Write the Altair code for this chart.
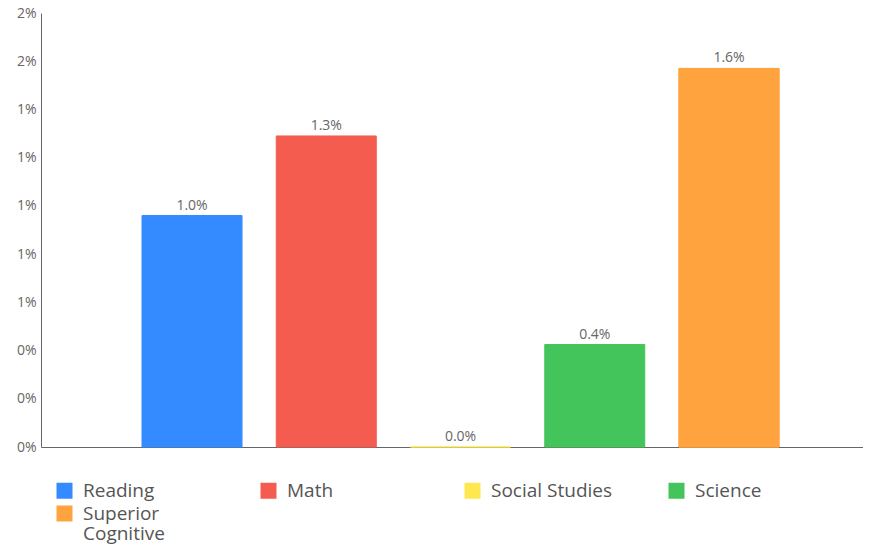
import altair as alt
import pandas as pd

subjects = ["Reading", "Math", "Social Studies", "Science", "Superior Cognitive"]
values = [0.0096, 0.0129, 0.0, 0.00425, 0.0157]
colors = ["#338BFF", "#F45C50", "#FFE74F", "#44C55B", "#FFA33F"]
y_ticks = [0, 0.002, 0.004, 0.006, 0.008, 0.010, 0.012, 0.014, 0.016, 0.018]

df = pd.DataFrame({"subject": subjects, "value": values})
df2 = df[df["subject"] == subjects[4]].copy()
df2["subject2"] = df2["subject"]

FONT = "Open Sans"

x = alt.X("subject:N", sort=subjects,
          scale=alt.Scale(paddingInner=0.255, paddingOuter=0.689, align=0.546),
          axis=alt.Axis(labels=False, ticks=False, title=None, domainColor="#666666"))
y = alt.Y("value:Q", scale=alt.Scale(domain=[0, 0.018], nice=False),
          axis=alt.Axis(values=y_ticks, format=".0%", title=None, grid=False, ticks=False,
                        labelPadding=5, labelColor="#666666", labelFontSize=14,
                        labelFont=FONT, domainColor="#666666"))

legend_common = dict(title=None, orient="none", direction="horizontal",
                     symbolType="square", symbolSize=256, symbolStrokeWidth=0,
                     labelOffset=9, labelFontSize=19, labelFont=FONT,
                     labelColor="#555555", padding=0)

bars = alt.Chart(df).mark_bar(strokeWidth=1).encode(
    x=x, y=y,
    stroke=alt.Stroke("subject:N", sort=subjects,
                      scale=alt.Scale(domain=subjects, range=colors), legend=None),
    color=alt.Color("subject:N", sort=subjects,
                    scale=alt.Scale(domain=subjects, range=colors),
                    legend=alt.Legend(legendX=14, legendY=468, columns=4,
                                      values=subjects[:4], columnPadding=54,
                                      gridAlign="all", **legend_common)),
)

bars2 = alt.Chart(df2).mark_bar(strokeWidth=1, stroke=colors[4]).encode(
    x=alt.X("subject:N", sort=subjects),
    y="value:Q",
    color=alt.Color("subject2:N",
                    scale=alt.Scale(domain=[subjects[4]], range=[colors[4]]),
                    legend=alt.Legend(legendX=14, legendY=491,
                                      labelExpr="datum.label == 'Superior Cognitive' ? ['Superior', 'Cognitive'] : datum.label",
                                      **legend_common)),
)

labels = alt.Chart(df).mark_text(baseline="bottom", dy=-3, fontSize=14,
                                  color="#666666", font=FONT).encode(
    x=alt.X("subject:N", sort=subjects),
    y="value:Q",
    text=alt.Text("value:Q", format=".1%"),
)

chart = alt.layer(bars, bars2, labels).resolve_scale(color="independent").properties(
    width=822, height=434,
    autosize=alt.AutoSizeParams(type="none"),
    padding={"left": 33, "top": 5, "right": 0, "bottom": 98},
).configure(style={"guide-label": {"lineHeight": 20}}).configure_view(stroke=None)

chart.save("out.html", embed_options={"renderer": "svg", "actions": False})
